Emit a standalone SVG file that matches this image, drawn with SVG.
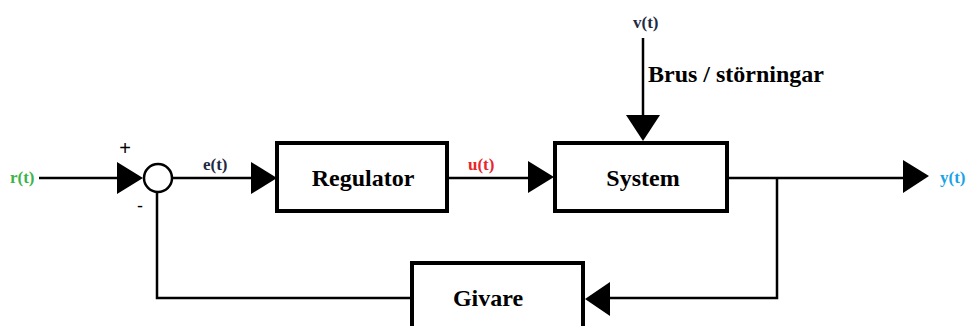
<svg xmlns="http://www.w3.org/2000/svg" width="967" height="326" viewBox="0 0 967 326">
<style>
.box{fill:#fff;stroke:#000;stroke-width:4}
.ln{fill:none;stroke:#000;stroke-width:2.5}
.ah{fill:#000}
.lbl{font-family:"Liberation Serif",serif;font-weight:bold;font-size:17px}
.big{font-family:"Liberation Serif",serif;font-weight:bold;font-size:24px;text-anchor:middle}
</style>
<rect width="967" height="326" fill="#fff"/>
<g id="connectors">
<path class="ln" d="M39 178H120"/>
<polygon class="ah" points="117,162 143,178 117,194"/>
<path class="ln" d="M172 178H254"/>
<polygon class="ah" points="251,162 277,178 251,194"/>
<path class="ln" d="M447 178H530"/>
<polygon class="ah" points="528,161 554,177 528,193"/>
<path class="ln" d="M643 38V118"/>
<polygon class="ah" points="626,115 660,115 643,141"/>
<path class="ln" d="M727 178H906"/>
<polygon class="ah" points="903,160 929,176 903,193"/>
<path class="ln" d="M777 178V298H608"/>
<polygon class="ah" points="610,282 585,299 610,316"/>
<path class="ln" d="M412 298H157V192"/>
</g>
<g id="sum">
<circle cx="158" cy="178" r="14" fill="#fff" stroke="#000" stroke-width="2.5"/>
<text x="125" y="155" font-family="Liberation Sans,sans-serif" font-size="20" text-anchor="middle">+</text>
<text x="140" y="212" font-family="Liberation Sans,sans-serif" font-size="18" text-anchor="middle">-</text>
</g>
<g id="regulator">
<rect class="box" x="277" y="143" width="170" height="68"/>
<text class="big" x="363" y="186">Regulator</text>
</g>
<g id="system">
<rect class="box" x="555" y="143" width="172" height="68"/>
<text class="big" x="643" y="186">System</text>
</g>
<g id="givare">
<rect class="box" x="412" y="263" width="171" height="70"/>
<text class="big" x="488" y="306">Givare</text>
</g>
<g id="labels">
<text class="lbl" x="10" y="183" fill="#3cb34a">r(t)</text>
<text class="lbl" x="203" y="170" fill="#1f2a44">e(t)</text>
<text class="lbl" x="468" y="170" fill="#e8262b">u(t)</text>
<text class="lbl" x="940" y="183" fill="#1aa3e8">y(t)</text>
<text class="lbl" x="633" y="28" fill="#1f2a44">v(t)</text>
<text x="648" y="82" font-family="Liberation Serif,serif" font-weight="bold" font-size="24">Brus / störningar</text>
</g>
</svg>
